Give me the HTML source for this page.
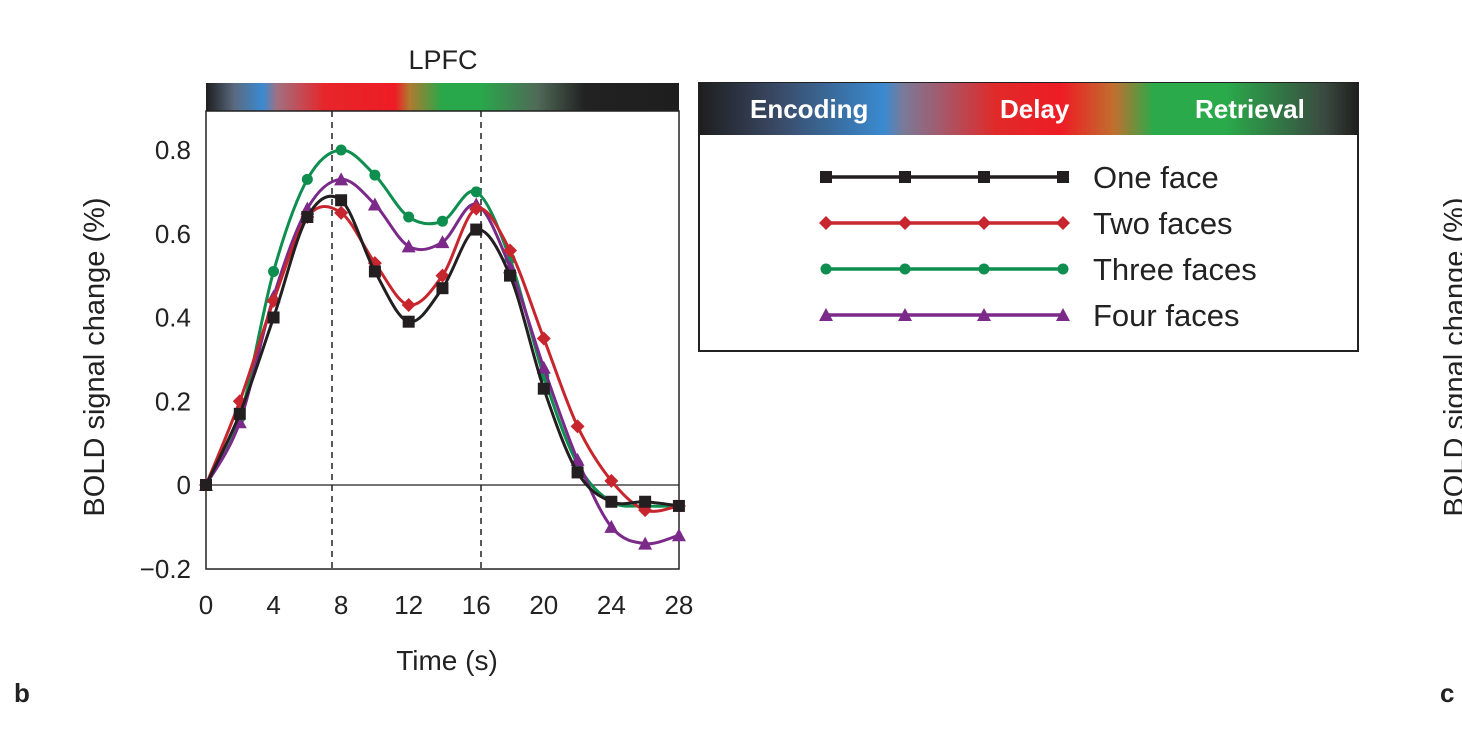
<!DOCTYPE html>
<html><head><style>
body{margin:0;background:#fff;width:1462px;height:733px;overflow:hidden;font-family:"Liberation Sans",sans-serif}
</style></head><body>
<svg id="s" width="1462" height="733" xmlns="http://www.w3.org/2000/svg" font-family="Liberation Sans, sans-serif">
<defs>
<linearGradient id="g1" x1="0" x2="1">
<stop offset="0" stop-color="#1e1e1e"/><stop offset="0.06" stop-color="#5a6a80"/><stop offset="0.12" stop-color="#3a8ad0"/><stop offset="0.15" stop-color="#a07080"/><stop offset="0.25" stop-color="#e6262a"/><stop offset="0.4" stop-color="#ee1c24"/><stop offset="0.43" stop-color="#b07a30"/><stop offset="0.5" stop-color="#28a84a"/><stop offset="0.58" stop-color="#28a84a"/><stop offset="0.7" stop-color="#506a58"/><stop offset="0.8" stop-color="#222"/><stop offset="1" stop-color="#1e1e1e"/>
</linearGradient>
<linearGradient id="g2" x1="0" x2="1">
<stop offset="0" stop-color="#1e1e1e"/><stop offset="0.12" stop-color="#3a4a66"/><stop offset="0.28" stop-color="#3a8ad0"/><stop offset="0.31" stop-color="#7a7a99"/><stop offset="0.45" stop-color="#e02a2a"/><stop offset="0.55" stop-color="#ee1c24"/><stop offset="0.63" stop-color="#c07030"/><stop offset="0.69" stop-color="#2aaa4a"/><stop offset="0.8" stop-color="#2aaa4a"/><stop offset="0.95" stop-color="#3a4a40"/><stop offset="1" stop-color="#1e1e1e"/>
</linearGradient>
</defs>
<text x="443" y="69" font-size="27" text-anchor="middle" fill="#222">LPFC</text>
<rect x="206" y="83" width="473" height="28" fill="url(#g1)"/>
<rect x="206" y="111" width="473" height="458" fill="none" stroke="#222" stroke-width="1.5"/>
<line x1="206" y1="485" x2="679" y2="485" stroke="#222" stroke-width="1.3"/>
<line x1="332" y1="111" x2="332" y2="569" stroke="#222" stroke-width="1.5" stroke-dasharray="6,5"/>
<line x1="481" y1="111" x2="481" y2="569" stroke="#222" stroke-width="1.5" stroke-dasharray="6,5"/>
<g id="ticks" font-size="26" fill="#222"></g>
<text transform="translate(104,357) rotate(-90)" font-size="29" text-anchor="middle" fill="#222">BOLD signal change (%)</text>
<text x="447" y="670" font-size="28" text-anchor="middle" fill="#222">Time (s)</text>
<text x="14" y="702" font-size="26" font-weight="bold" fill="#222">b</text>
<text x="1440" y="702" font-size="26" font-weight="bold" fill="#222">c</text>
<text transform="translate(1464,357) rotate(-90)" font-size="29" text-anchor="middle" fill="#222">BOLD signal change (%)</text>
<g id="series"></g>
<rect x="699" y="83" width="659" height="268" fill="#fff" stroke="#222" stroke-width="2"/>
<rect x="699" y="83" width="659" height="52" fill="url(#g2)"/>
<g font-size="26" font-weight="bold" fill="#fff">
<text x="750" y="118">Encoding</text><text x="1000" y="118">Delay</text><text x="1195" y="118">Retrieval</text>
</g>
<g id="leg" font-size="31" fill="#222"></g>
</svg>
<script>
var NS="http://www.w3.org/2000/svg";
function el(p,t,a,txt){var e=document.createElementNS(NS,t);for(var k in a)e.setAttribute(k,a[k]);if(txt!=null)e.textContent=txt;p.appendChild(e);return e;}
var tk=document.getElementById('ticks');
[-0.2,0,0.2,0.4,0.6,0.8].forEach(function(v){var y=485-v*418.75;el(tk,'text',{x:191,y:y+9,'text-anchor':'end'},v==0?'0':(v<0?'\u22120.2':v.toFixed(1)));});
[0,4,8,12,16,20,24,28].forEach(function(t){el(tk,'text',{x:206+t*16.89,y:614,'text-anchor':'middle'},String(t));});
var S=[
["#231f20","sq",[0,0.17,0.40,0.64,0.68,0.51,0.39,0.47,0.61,0.50,0.23,0.03,-0.04,-0.04,-0.05]],
["#c8262e","di",[0,0.20,0.44,0.64,0.65,0.53,0.43,0.50,0.66,0.56,0.35,0.14,0.01,-0.06,-0.05]],
["#0e8f4f","ci",[0,0.16,0.51,0.73,0.80,0.74,0.64,0.63,0.70,0.54,0.26,0.05,-0.04,-0.05,-0.05]],
["#7b2a8a","tr",[0,0.15,0.45,0.66,0.73,0.67,0.57,0.58,0.67,0.52,0.28,0.06,-0.10,-0.14,-0.12]]];
var g=document.getElementById('series');
function mk(p,type,x,y,c,s){s=s||1;
 if(type=="sq")el(p,'rect',{x:x-6*s,y:y-6*s,width:12*s,height:12*s,fill:c});
 else if(type=="di")el(p,'polygon',{points:[x,y-7*s,x+7*s,y,x,y+7*s,x-7*s,y].join(','),fill:c});
 else if(type=="ci")el(p,'circle',{cx:x,cy:y,r:5.5*s,fill:c});
 else el(p,'polygon',{points:[x,y-7*s,x+7*s,y+6*s,x-7*s,y+6*s].join(','),fill:c});}
[2,3,1,0].forEach(function(k){var s=S[k];
 var P=s[2].map(function(v,i){return [206+i*2*16.89,485-v*418.75];});
 var d="M"+P[0];
 for(var i=0;i<P.length-1;i++){var p0=P[Math.max(i-1,0)],p1=P[i],p2=P[i+1],p3=P[Math.min(i+2,P.length-1)];
  d+=" C"+(p1[0]+(p2[0]-p0[0])/6)+","+(p1[1]+(p2[1]-p0[1])/6)+" "+(p2[0]-(p3[0]-p1[0])/6)+","+(p2[1]-(p3[1]-p1[1])/6)+" "+p2[0]+","+p2[1];}
 el(g,'path',{d:d,fill:'none',stroke:s[0],'stroke-width':3});
 P.forEach(function(p){mk(g,s[1],p[0],p[1],s[0]);});
});
var lg=document.getElementById('leg');var names=["One face","Two faces","Three faces","Four faces"];
S.forEach(function(s,i){var y=177+i*46;
 el(lg,'line',{x1:826,y1:y,x2:1063,y2:y,stroke:s[0],'stroke-width':3.5});
 [826,905,984,1063].forEach(function(x){mk(lg,s[1],x,y,s[0]);});
 el(lg,'text',{x:1093,y:y+11},names[i]);
});
</script>
</body></html>
